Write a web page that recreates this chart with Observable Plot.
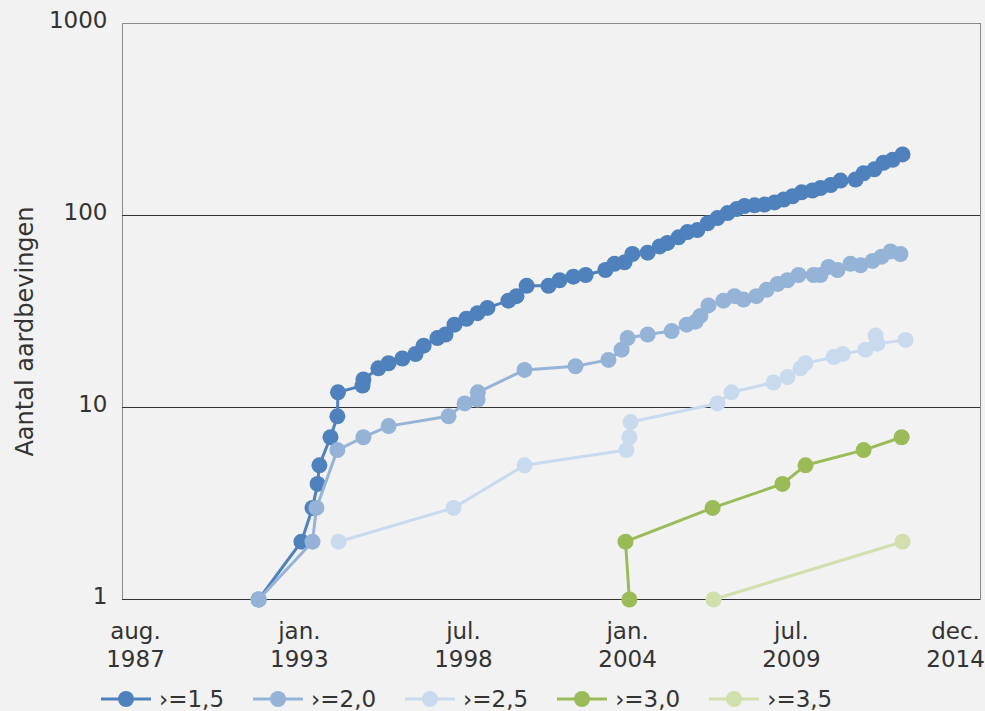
<!DOCTYPE html>
<html>
<head>
<meta charset="utf-8">
<script src="https://cdn.jsdelivr.net/npm/d3@7"></script>
<script src="https://cdn.jsdelivr.net/npm/@observablehq/plot@0.6"></script>
<style>
  html, body { margin: 0; padding: 0; background: #F2F2F2; }
  #wrap { position: relative; width: 985px; height: 711px; overflow: hidden; font-family: "DejaVu Sans", Verdana, sans-serif; color: #333; }
  #legend { position: absolute; left: 101px; top: 672px; height: 54px; display: flex; align-items: center; font-size: 23px; }
  .item { display: flex; align-items: center; margin-right: 29px; }
  .item svg { margin-right: 8px; }
</style>
</head>
<body>
<div id="wrap"><div id="chart"></div><div id="legend"></div></div>
<script>
// ---- data (x = decimal year, y = cumulative number of earthquakes) ----
const seriesNames = ["›=1,5", "›=2,0", "›=2,5", "›=3,0", "›=3,5"];
const seriesColors = ["#4F81BD", "#95B3D7", "#C9DAEE", "#9BBB59", "#D0DFAD"];

const years15 = [1991.72, 1993.15, 1993.52, 1993.69, 1993.75, 1994.12, 1994.35, 1994.37, 1995.19, 1995.22,
  1995.72, 1996.06, 1996.52, 1996.96, 1997.23, 1997.69, 1997.96, 1998.26, 1998.66, 1999.03,
  1999.36, 2000.06, 2000.33, 2000.67, 2001.40, 2001.77, 2002.23, 2002.64, 2003.30, 2003.60,
  2003.94, 2004.20, 2004.71, 2005.11, 2005.37, 2005.74, 2006.04, 2006.37, 2006.71, 2007.04,
  2007.38, 2007.68, 2007.94, 2008.28, 2008.61, 2008.95, 2009.25, 2009.55, 2009.85, 2010.21,
  2010.48, 2010.82, 2011.15, 2011.65, 2011.92, 2012.28, 2012.58, 2012.89, 2013.22];
const counts15 = [1, 2, 3, 4, 5, 7, 9, 12, 13, 14,
  16, 17, 18, 19, 21, 23, 24, 27, 29, 31,
  33, 36, 38, 43, 43, 46, 48, 49, 52, 56,
  57, 63, 64, 69, 72, 77, 82, 84, 91, 97,
  103, 108, 112, 113, 114, 117, 121, 126, 132, 135,
  139, 144, 152, 154, 166, 174, 188, 195, 208];

const years20 = [1991.72, 1993.52, 1993.65, 1994.35, 1995.22, 1996.06, 1998.06, 1998.60, 1999.03, 1999.04,
  2000.60, 2002.30, 2003.40, 2003.84, 2004.04, 2004.71, 2005.51, 2006.01, 2006.31, 2006.47,
  2006.74, 2007.24, 2007.61, 2007.91, 2008.34, 2008.68, 2009.05, 2009.38, 2009.75, 2010.25,
  2010.48, 2010.75, 2011.05, 2011.48, 2011.82, 2012.22, 2012.52, 2012.82, 2013.15];
const counts20 = [1, 2, 3, 6, 7, 8, 9, 10.5, 11, 12,
  15.7, 16.4, 17.7, 20, 23, 24, 25, 27, 28, 30,
  34, 36, 38, 36.5, 38, 41, 44, 46, 49, 49,
  49, 54, 52, 56, 55, 58, 61, 65, 63];

const years25 = [1994.39, 1998.23, 2000.60, 2004.00, 2004.10, 2004.14, 2007.04, 2007.51, 2008.91, 2009.38,
  2009.81, 2009.98, 2010.92, 2011.22, 2011.98, 2012.32, 2012.38, 2013.32];
const counts25 = [2, 3, 5, 6, 7, 8.4, 10.5, 12, 13.5, 14.4,
  16, 17, 18.3, 19, 20, 23.7, 21.5, 22.5];

const years30 = [2004.10, 2003.97, 2006.88, 2009.21, 2009.98, 2011.92, 2013.19];
const counts30 = [1, 2, 3, 4, 5, 6, 7];

const years35 = [2006.91, 2013.22];
const counts35 = [1, 2];

const yTicks = [1, 10, 100, 1000];
const xTickYears = [1987.61, 1993.08, 1998.56, 2004.04, 2009.51, 2014.99];
const xTickLabels = ["aug.\n1987", "jan.\n1993", "jul.\n1998", "jan.\n2004", "jul.\n2009", "dec.\n2014"];
const yLabel = "Aantal aardbevingen";

// ---- build ----
const allYears = [years15, years20, years25, years30, years35];
const allCounts = [counts15, counts20, counts25, counts30, counts35];
const tables = allYears.map((ys, s) => ys.map((x, i) => ({x, y: allCounts[s][i], series: seriesNames[s]})));
const xLabelMap = new Map(xTickYears.map((t, i) => [t, xTickLabels[i]]));

const seriesMarks = tables.flatMap((t, s) => [
  Plot.line(t, {x: "x", y: "y", stroke: seriesColors[s], strokeWidth: 3}),
  Plot.dot(t, {x: "x", y: "y", r: 8, fill: seriesColors[s], stroke: null})
]);

const chart = Plot.plot({
  width: 985,
  height: 672,
  marginLeft: 122,
  marginRight: 5,
  marginTop: 23,
  marginBottom: 73,
  style: {background: "#F2F2F2", fontFamily: "DejaVu Sans, Verdana, sans-serif", fontSize: "23px", color: "#333", overflow: "visible"},
  x: {type: "linear", domain: [1987.176, 2015.823]},
  y: {type: "log", domain: [1, 1000]},
  marks: [
    Plot.frame({stroke: "#8a8a8a", strokeWidth: 1}),
    Plot.ruleY([1, 10, 100], {stroke: "#333", strokeWidth: 1}),
    Plot.axisY({ticks: yTicks, tickFormat: d => String(d), tickSize: 0, tickPadding: 15, label: null, dy: -3, fontSize: 23}),
    Plot.axisX({ticks: xTickYears, tickFormat: d => xLabelMap.get(d), tickSize: 0, tickPadding: 20, label: null, fontSize: 23, lineHeight: 1.2}),
    Plot.text([yLabel], {text: d => d, frameAnchor: "left", textAnchor: "middle", dx: -97, dy: 20, rotate: -90, fontSize: 24, fill: "#333"}),
    ...seriesMarks
  ]
});
document.getElementById("chart").appendChild(chart);

// ---- legend ----
const legend = document.getElementById("legend");
seriesNames.forEach((name, s) => {
  const item = document.createElement("div");
  item.className = "item";
  item.innerHTML = `<svg width="50" height="20"><line x1="0" y1="10" x2="50" y2="10" stroke="${seriesColors[s]}" stroke-width="3"/><circle cx="25" cy="10" r="8" fill="${seriesColors[s]}"/></svg><span>${name}</span>`;
  legend.appendChild(item);
});
</script>
</body>
</html>
